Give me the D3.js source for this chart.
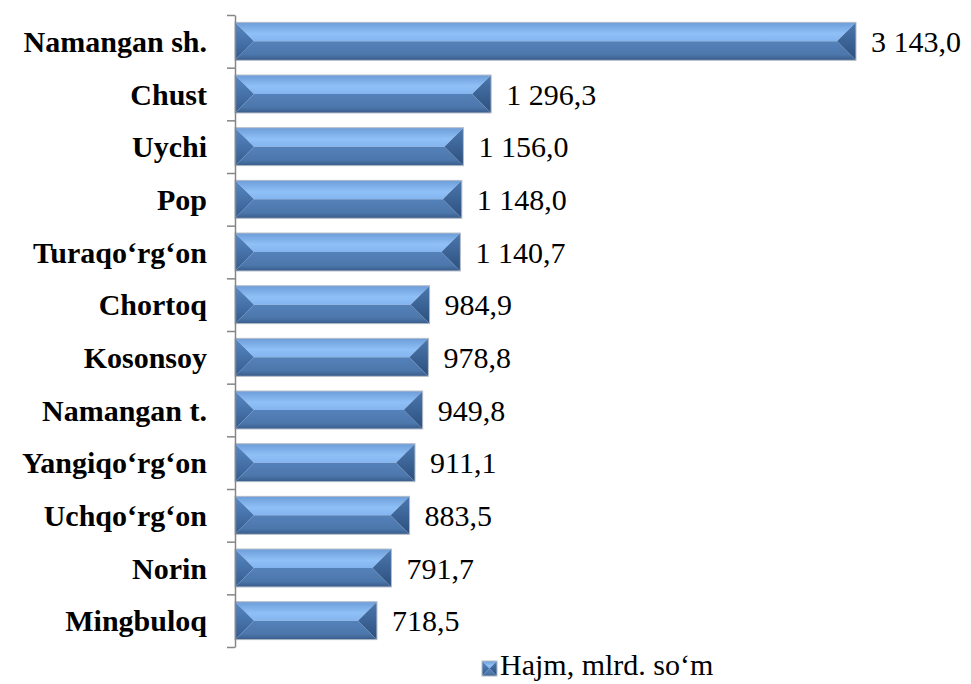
<!DOCTYPE html>
<html>
<head>
<meta charset="utf-8">
<script src="https://cdn.jsdelivr.net/npm/d3@7/dist/d3.min.js"></script>
</head>
<body style="margin:0;background:#ffffff">
<svg id="chart" width="971" height="684"></svg>
<script>
var categories = ["Namangan sh.", "Chust", "Uychi", "Pop", "Turaqo‘rg‘on", "Chortoq",
                  "Kosonsoy", "Namangan t.", "Yangiqo‘rg‘on", "Uchqo‘rg‘on", "Norin", "Mingbuloq"];
var values = [3143.0, 1296.3, 1156.0, 1148.0, 1140.7, 984.9, 978.8, 949.8, 911.1, 883.5, 791.7, 718.5];
var labels = ["3 143,0", "1 296,3", "1 156,0", "1 148,0", "1 140,7", "984,9",
              "978,8", "949,8", "911,1", "883,5", "791,7", "718,5"];
var seriesName = "Hajm, mlrd. so‘m";

var svg = d3.select("#chart");

var data = categories.map(function(c, i) {
  return { name: c, value: values[i], label: labels[i] };
});

var x = d3.scaleLinear().domain([0, 3143]).range([235, 856]);
var y = d3.scaleBand().domain(categories).range([15, 647])
    .paddingInner(0.28).paddingOuter(0.14);
var yIdx = d3.scaleLinear().domain([0, categories.length]).range([15, 647]);

// gradients for the bevel faces
var defs = svg.append("defs");
function grad(id, stops) {
  var g = defs.append("linearGradient").attr("id", id)
      .attr("x1", 0).attr("y1", 0).attr("x2", 0).attr("y2", 1);
  stops.forEach(function(s) {
    g.append("stop").attr("offset", s[0]).attr("stop-color", s[1]);
  });
}
grad("gTop", [[0, "#6c9dd8"], [0.6, "#8fc0f7"], [1, "#83b4ee"]]);
grad("gBot", [[0, "#5581ba"], [0.7, "#4c77ac"], [1, "#395b89"]]);
grad("gLeft", [[0, "#5888c4"], [1, "#335c8f"]]);
grad("gRight", [[0, "#4b78b0"], [1, "#2c4f7c"]]);

function bevel(g, x0, x1, y0, y1) {
  var ym = (y0 + y1) / 2;
  var d = Math.min((y1 - y0) / 2, (x1 - x0) / 2);
  g.append("polygon").attr("fill", "url(#gTop)")
    .attr("points", [[x0, y0], [x1, y0], [x1 - d, ym], [x0 + d, ym]].join(" "));
  g.append("polygon").attr("fill", "url(#gBot)")
    .attr("points", [[x0, y1], [x1, y1], [x1 - d, ym], [x0 + d, ym]].join(" "));
  g.append("polygon").attr("fill", "url(#gLeft)")
    .attr("points", [[x0, y0], [x0 + d, ym], [x0, y1]].join(" "));
  g.append("polygon").attr("fill", "url(#gRight)")
    .attr("points", [[x1, y0], [x1 - d, ym], [x1, y1]].join(" "));
  g.append("rect")
    .attr("x", x0).attr("y", y0)
    .attr("width", x1 - x0).attr("height", y1 - y0)
    .attr("fill", "none").attr("stroke", "#b4bcc8").attr("stroke-width", 1);
}

var bars = svg.append("g").selectAll(".bar")
  .data(data)
  .enter().append("g")
    .attr("class", "bar");

bars.each(function(d) {
  bevel(d3.select(this), x(0), x(d.value), y(d.name), y(d.name) + y.bandwidth());
});

// axis, ticks sit on the band boundaries
var axis = svg.append("g")
    .attr("transform", "translate(" + x(0) + ",0)")
    .call(d3.axisLeft(yIdx).tickValues(d3.range(categories.length + 1))
      .tickFormat("").tickSize(8).tickSizeOuter(0));
axis.select(".domain").attr("stroke", "#868686").attr("stroke-width", 1.5);
axis.selectAll(".tick line").attr("stroke", "#868686").attr("stroke-width", 1.5);

// all text in one group with a serif face
var textLayer = svg.append("g")
    .attr("font-family", "Liberation Serif, serif")
    .style("font-family", "'Liberation Serif', serif");

// category labels
textLayer.append("g").selectAll("text")
  .data(data)
  .enter().append("text")
    .attr("x", 207)
    .attr("y", function(d) { return y(d.name) + y.bandwidth() / 2; })
    .attr("dy", "0.35em")
    .attr("text-anchor", "end")
    .attr("font-weight", "bold")
    .attr("font-size", 30)
    .text(function(d) { return d.name; });

// value labels
textLayer.append("g").selectAll("text")
  .data(data)
  .enter().append("text")
    .attr("x", function(d) { return x(d.value) + 15; })
    .attr("y", function(d) { return y(d.name) + y.bandwidth() / 2; })
    .attr("dy", "0.35em")
    .attr("font-size", 30)
    .text(function(d) { return d.label; });

// legend
var legend = svg.append("g");
bevel(legend, 482, 497, 661, 676);
textLayer.append("text")
    .attr("x", 500)
    .attr("y", 675)
    .attr("font-size", 30)
    .text(seriesName);
</script>
</body>
</html>
